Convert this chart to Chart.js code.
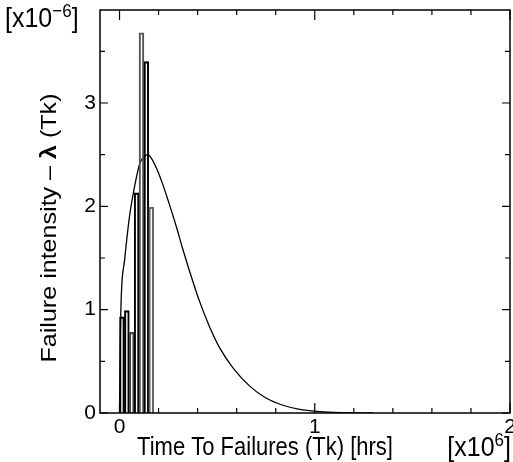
<!DOCTYPE html>
<html>
<head>
<meta charset="utf-8">
<script src="https://cdn.jsdelivr.net/npm/chart.js@4.4.1/dist/chart.umd.min.js"></script>
<style>
html,body{margin:0;padding:0;background:#fff;}
#wrap{width:513px;height:462px;position:relative;}
</style>
</head>
<body>
<div id="wrap"><canvas id="c" width="513" height="462"></canvas></div>
<script>
// Histogram bins (x10^6 hrs), centres and heights (x10^-6)
const binCenters = [0.0125, 0.0375, 0.0625, 0.0875, 0.1125, 0.1375, 0.1625];
const binHeights = [0.93, 0.99, 0.78, 2.13, 3.68, 3.40, 1.99];
const binColors  = ['#000', '#000', '#444', '#000', '#555', '#000', '#666'];

// Fitted failure intensity curve
const curveX = [0, 0.004, 0.009, 0.026, 0.051, 0.077, 0.103, 0.125, 0.145, 0.165, 0.196, 0.222, 0.25, 0.29, 0.325, 0.376, 0.41, 0.46, 0.513, 0.58, 0.667, 0.75, 0.837, 0.923, 1.01, 1.1, 1.2, 1.3];
const curveY = [0, 0.70, 1.13, 1.48, 1.90, 2.19, 2.41, 2.48, 2.50, 2.46, 2.34, 2.21, 2.05, 1.81, 1.58, 1.27, 1.08, 0.84, 0.63, 0.44, 0.26, 0.145, 0.075, 0.035, 0.015, 0.006, 0.002, 0];

// Axis ticks
const xTicks = [0, 0.2, 0.4, 0.6, 0.8, 1, 1.2, 1.4, 1.6, 1.8, 2];
const yTicks = [0, 0.5, 1, 1.5, 2, 2.5, 3, 3.5];
const xMin = -0.1, xMax = 2, yMin = 0, yMax = 3.9;

const FONT = '"Liberation Sans", Arial, Helvetica, sans-serif';

const framePlugin = {
  id: 'frame',
  afterDraw(chart) {
    const ctx = chart.ctx, a = chart.chartArea;
    const xs = chart.scales.x, ys = chart.scales.y;
    ctx.save();
    ctx.strokeStyle = '#000';
    ctx.lineWidth = 1.5;
    ctx.strokeRect(a.left, a.top, a.right - a.left, a.bottom - a.top);
    ctx.lineWidth = 1.2;
    ctx.beginPath();
    xTicks.forEach(v => {
      const p = xs.getPixelForValue(v);
      const L = Number.isInteger(v) ? 10 : 5;
      ctx.moveTo(p, a.bottom); ctx.lineTo(p, a.bottom - L);
      ctx.moveTo(p, a.top); ctx.lineTo(p, a.top + L);
    });
    yTicks.forEach(v => {
      const p = ys.getPixelForValue(v);
      const L = Number.isInteger(v) ? 8 : 5;
      ctx.moveTo(a.left, p); ctx.lineTo(a.left + L, p);
      ctx.moveTo(a.right, p); ctx.lineTo(a.right - L, p);
    });
    ctx.stroke();

    ctx.fillStyle = '#000';
    ctx.textBaseline = 'alphabetic';
    function pieces(parts, x, y) {
      let cx = x;
      parts.forEach(p => {
        ctx.font = p.f;
        ctx.fillText(p.t, cx, y + (p.dy || 0));
        cx += ctx.measureText(p.t).width;
      });
      return cx;
    }
    function width(parts) {
      let w = 0;
      parts.forEach(p => { ctx.font = p.f; w += ctx.measureText(p.t).width; });
      return w;
    }
    const n22 = '22px ' + FONT, b22 = 'bold 22px ' + FONT;
    const n25 = '25px ' + FONT, s17 = '17px ' + FONT;
    // Y title (rotated)
    ctx.save();
    ctx.translate(56, 228);
    ctx.rotate(-Math.PI / 2);
    ctx.scale(1.14, 1);
    const yt = [{t: 'Failure intensity \u2013 ', f: n22}, {t: '\u03BB', f: b22}, {t: ' (Tk)', f: n22}];
    pieces(yt, -width(yt) / 2, 0);
    ctx.restore();
    // Y multiplier
    ctx.save();
    ctx.scale(1, 1.1);
    pieces([{t: '[x10', f: n25}, {t: '\u22126', f: s17, dy: -9}, {t: ']', f: n25}], 5, 27 / 1.1);
    // X title
    ctx.restore();
    ctx.save();
    ctx.scale(1, 1.15);
    const xt = [{t: 'Time To Failures (Tk) [hrs]', f: n22}];
    pieces(xt, 265 - width(xt) / 2, 455 / 1.15);
    ctx.restore();
    ctx.save();
    ctx.scale(1, 1.1);
    const xm = [{t: '[x10', f: n25}, {t: '6', f: s17, dy: -9}, {t: ']', f: n25}];
    pieces(xm, 511 - width(xm), 456 / 1.1);
    ctx.restore();
    ctx.restore();
  }
};

new Chart(document.getElementById('c'), {
  type: 'bar',
  data: {
    datasets: [
      {
        type: 'line',
        data: curveX.map((x, i) => ({x: x, y: curveY[i]})),
        borderColor: '#000',
        borderWidth: 1.3,
        pointRadius: 0,
        cubicInterpolationMode: 'monotone',
        fill: false,
        order: 2
      },
      {
        type: 'bar',
        data: binCenters.map((x, i) => ({x: x, y: binHeights[i]})),
        backgroundColor: 'rgba(255,255,255,0)',
        borderColor: binColors,
        borderWidth: {top: 1.4, left: 1.4, right: 1.4, bottom: 0},
        borderSkipped: 'bottom',
        categoryPercentage: 1,
        barPercentage: 1,
        order: 1
      }
    ]
  },
  options: {
    responsive: false,
    animation: false,
    devicePixelRatio: 1,
    layout: {padding: {top: 10, right: 3, left: 0, bottom: 0}},
    plugins: {legend: {display: false}, tooltip: {enabled: false}},
    scales: {
      x: {
        type: 'linear', min: xMin, max: xMax, offset: false,
        afterBuildTicks: s => { s.ticks = xTicks.map(v => ({value: v})); },
        afterFit: s => { s.height = 49; s.paddingLeft = 0; s.paddingRight = 0; },
        grid: {display: false, drawTicks: false},
        border: {display: false},
        ticks: {
          autoSkip: false, maxRotation: 0, padding: 2, color: '#000',
          font: {size: 21, family: FONT},
          callback: v => Number.isInteger(v) ? String(v) : ''
        }
      },
      y: {
        type: 'linear', min: yMin, max: yMax,
        afterBuildTicks: s => { s.ticks = yTicks.map(v => ({value: v})); },
        afterFit: s => { s.width = 100; s.paddingTop = 0; s.paddingBottom = 0; },
        grid: {display: false, drawTicks: false},
        border: {display: false},
        ticks: {
          autoSkip: false, padding: 4, color: '#000',
          font: {size: 21, family: FONT},
          callback: v => Number.isInteger(v) ? String(v) : ''
        }
      }
    }
  },
  plugins: [framePlugin]
});
</script>
</body>
</html>
